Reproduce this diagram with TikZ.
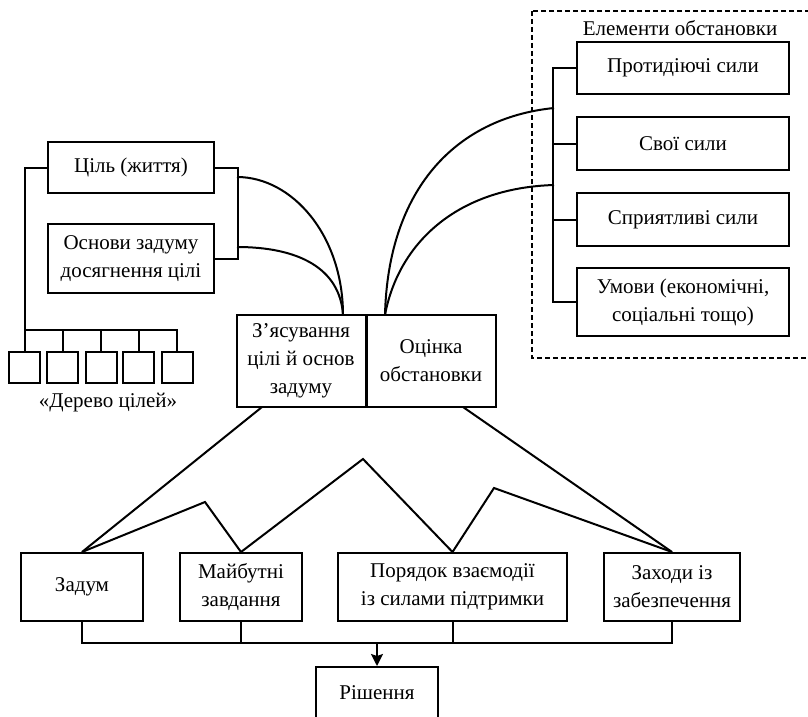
\documentclass[tikz,border=0pt]{standalone}
\usepackage{fontspec}
\setmainfont{Liberation Serif}
\usetikzlibrary{arrows.meta}
\begin{document}
\begin{tikzpicture}[x=1pt,y=-1pt,
  line width=2pt,
  box/.style={draw, fill=white, inner sep=0pt, align=center, font=\fontsize{21}{28}\selectfont},
  lbl/.style={inner sep=0pt, align=center, font=\fontsize{21}{28}\selectfont},
  tbox/.style={draw, fill=white, inner sep=0pt, minimum width=31pt, minimum height=31pt}]
\useasboundingbox (0,0) rectangle (808,717);
\clip (0,0) rectangle (808,717);
\fill[white] (0,0) rectangle (808,717);

% dashed frame
\draw[line width=1.1pt, dash pattern=on 5pt off 3pt] (532,11) rectangle (812,358);
\node[lbl] (title) at (680,28) {Елементи обстановки};

% left group
\node[box, minimum width=166pt, minimum height=51pt] (goal) at (131,167.5) {Ціль (життя)};
\node[box, minimum width=166pt, minimum height=69pt] (basis) at (131,258.5) {Основи задуму\\досягнення цілі};
\foreach \i/\x in {1/24.5,2/62.5,3/101,4/138.5,5/177}
  \node[tbox] (t\i) at (\x,367.5) {};
\node[lbl] (treelbl) at (108,403) {«Дерево цілей»};

% central boxes
\node[box, minimum width=129pt, minimum height=92pt] (clar) at (301,361) {З’ясування\\цілі й основ\\задуму};
\node[box, minimum width=129pt, minimum height=92pt] (assess) at (431,361) {Оцінка\\обстановки};

% right group
\node[box, minimum width=212pt, minimum height=52pt] (opp) at (683,68) {Протидіючі сили};
\node[box, minimum width=212pt, minimum height=53pt] (own) at (683,143.5) {Свої сили};
\node[box, minimum width=212pt, minimum height=53pt] (fav) at (683,219.5) {Сприятливі сили};
\node[box, minimum width=212pt, minimum height=68pt] (cond) at (683,302) {Умови (економічні,\\соціальні тощо)};

% bottom row
\node[box, minimum width=122pt, minimum height=68pt] (idea) at (82,587) {Задум};
\node[box, minimum width=122pt, minimum height=68pt] (tasks) at (241,587) {Майбутні\\завдання};
\node[box, minimum width=229pt, minimum height=68pt] (order) at (452.5,587) {Порядок взаємодії\\із силами підтримки};
\node[box, minimum width=136pt, minimum height=68pt] (supp) at (672,587) {Заходи із\\забезпечення};
\node[box, minimum width=122pt, minimum height=52pt] (dec) at (377,693) {Рішення};

% tree connectors
\coordinate (th) at (25,330);
\draw (goal.west) -| (t1.north);
\foreach \i in {2,3,4,5} \draw (th) -| (t\i.north);

% left bracket and curves
\draw (goal.east) -- ++(23,0) |- (basis.east);
\coordinate (c1) at (237,177);
\coordinate (c2) at (237,247);
\coordinate (cl) at (343,315);
\draw (c1) .. controls (292,177) and (343,235) .. (cl);
\draw (c2) .. controls (298,247) and (340,268) .. (cl);

% right bracket and curves
\draw (opp.west) -- ++(-23,0) |- (cond.west);
\draw (own.west) -- ++(-23,0);
\draw (fav.west) -- ++(-23,0);
\coordinate (c3) at (554,108);
\coordinate (c4) at (554,185);
\coordinate (cr) at (385,315);
\draw (c3) .. controls (455,118) and (388,190) .. (cr);
\draw (c4) .. controls (455,188) and (398,245) .. (cr);

% zigzag
\coordinate (zl) at (262,407);
\coordinate (zr) at (463,407);
\coordinate (p1) at (205,502);
\coordinate (p2) at (363,459);
\coordinate (p3) at (494,488);
\draw (zl) -- (idea.north);
\draw (idea.north) -- (p1) -- (tasks.north) -- (p2) -- (order.north) -- (p3) -- (supp.north);
\draw (zr) -- (supp.north);

% bus to decision
\coordinate (bus) at (0,643);
\draw (idea.south) |- (supp.south |- bus) -- (supp.south);
\draw (tasks.south) -- (tasks.south |- bus);
\draw (order.south) -- (order.south |- bus);
\draw[-{Stealth[length=12pt,width=12pt,inset=2pt]}] (dec.north |- bus) -- (dec.north);
\end{tikzpicture}
\end{document}
